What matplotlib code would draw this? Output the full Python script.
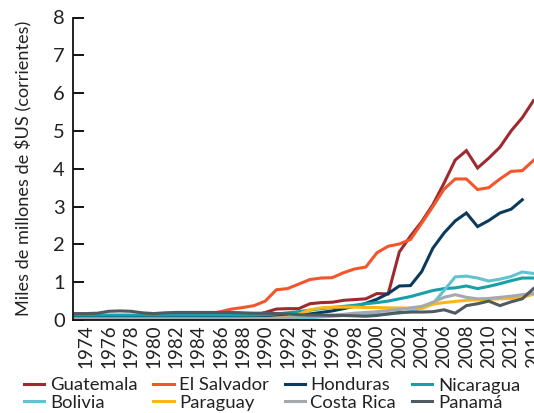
import numpy as np
import matplotlib
matplotlib.use("Agg")
import matplotlib.pyplot as plt

plt.rcParams['font.family'] = ['Lato', 'DejaVu Sans']

years = list(range(1973, 2015))

guatemala = [0.02, 0.02, 0.02, 0.03, 0.03, 0.03, 0.03, 0.03, 0.03, 0.03,
             0.03, 0.04, 0.05, 0.06, 0.08, 0.10, 0.12, 0.20, 0.29, 0.30,
             0.30, 0.43, 0.46, 0.47, 0.52, 0.54, 0.56, 0.70, 0.69, 1.80,
             2.22, 2.60, 3.05, 3.62, 4.23, 4.48, 4.02, 4.28, 4.57, 5.00,
             5.35, 5.80]
el_salvador = [0.01, 0.01, 0.02, 0.02, 0.03, 0.03, 0.04, 0.05, 0.06, 0.07,
               0.09, 0.12, 0.16, 0.22, 0.29, 0.33, 0.38, 0.50, 0.80, 0.83,
               0.95, 1.07, 1.11, 1.12, 1.25, 1.35, 1.40, 1.78, 1.95, 2.01,
               2.13, 2.56, 3.00, 3.46, 3.73, 3.73, 3.45, 3.50, 3.73, 3.93,
               3.95, 4.22]
honduras = [0.10, 0.10, 0.10, 0.10, 0.10, 0.10, 0.10, 0.10, 0.10, 0.10,
            0.10, 0.10, 0.10, 0.10, 0.10, 0.10, 0.10, 0.10, 0.10, 0.11,
            0.13, 0.16, 0.20, 0.24, 0.30, 0.36, 0.44, 0.55, 0.70, 0.90,
            0.91, 1.28, 1.90, 2.30, 2.62, 2.83, 2.47, 2.63, 2.83, 2.93,
            3.18, np.nan]
nicaragua = [0.13, 0.13, 0.13, 0.13, 0.13, 0.13, 0.13, 0.13, 0.13, 0.13,
             0.13, 0.13, 0.13, 0.13, 0.13, 0.13, 0.13, 0.14, 0.16, 0.19,
             0.22, 0.26, 0.30, 0.33, 0.36, 0.39, 0.43, 0.46, 0.50, 0.56,
             0.62, 0.70, 0.78, 0.83, 0.85, 0.90, 0.83, 0.89, 0.96, 1.04,
             1.11, 1.11]
bolivia = [0.02, 0.02, 0.02, 0.02, 0.02, 0.02, 0.02, 0.02, 0.02, 0.02,
           0.02, 0.02, 0.02, 0.02, 0.02, 0.02, 0.02, 0.02, 0.03, 0.04,
           0.05, 0.06, 0.08, 0.10, 0.12, 0.14, 0.15, 0.15, 0.16, 0.18,
           0.22, 0.32, 0.43, 0.78, 1.14, 1.16, 1.11, 1.03, 1.08, 1.15,
           1.27, 1.23]
paraguay = [0.02, 0.02, 0.02, 0.02, 0.02, 0.02, 0.02, 0.02, 0.02, 0.02,
            0.02, 0.02, 0.02, 0.02, 0.02, 0.02, 0.02, 0.03, 0.05, 0.08,
            0.15, 0.27, 0.32, 0.34, 0.34, 0.34, 0.33, 0.33, 0.32, 0.32,
            0.31, 0.30, 0.42, 0.46, 0.49, 0.52, 0.53, 0.55, 0.56, 0.57,
            0.60, 0.68]
costa_rica = [0.03, 0.03, 0.03, 0.03, 0.03, 0.03, 0.03, 0.03, 0.03, 0.03,
              0.03, 0.03, 0.03, 0.03, 0.03, 0.03, 0.03, 0.04, 0.05, 0.06,
              0.08, 0.10, 0.12, 0.13, 0.15, 0.18, 0.20, 0.22, 0.25, 0.28,
              0.32, 0.36, 0.47, 0.60, 0.67, 0.60, 0.56, 0.57, 0.60, 0.63,
              0.67, 0.71]
panama = [0.17, 0.17, 0.18, 0.23, 0.24, 0.23, 0.19, 0.17, 0.19, 0.20,
          0.20, 0.20, 0.20, 0.20, 0.20, 0.19, 0.18, 0.18, 0.17, 0.16,
          0.14, 0.13, 0.13, 0.12, 0.12, 0.11, 0.10, 0.12, 0.16, 0.20,
          0.21, 0.21, 0.22, 0.27, 0.18, 0.38, 0.43, 0.50, 0.38, 0.48,
          0.56, 0.83]

series = [
    ("Guatemala", guatemala, "#9e2a2f"),
    ("El Salvador", el_salvador, "#f4562b"),
    ("Honduras", honduras, "#0b3b5c"),
    ("Nicaragua", nicaragua, "#17a0a7"),
    ("Bolivia", bolivia, "#63c2cf"),
    ("Paraguay", paraguay, "#fdb714"),
    ("Costa Rica", costa_rica, "#a2aab0"),
    ("Panamá", panama, "#505a60"),
]

tick_years = list(range(1974, 2015, 2))
ylabel = "Miles de millones de $US (corrientes)"

fig = plt.figure(figsize=(5.34, 4.13), dpi=100)
ax = fig.add_axes([73 / 534, 1 - 320 / 413, (534 - 73) / 534, (320 - 17.5) / 413])

handles = {}
for name, vals, col in series:
    ln, = ax.plot(years, vals, color=col, lw=2.2, label=name, solid_joinstyle='miter')
    handles[name] = ln

ax.set_xlim(1972.8, 2014.05)
ax.set_ylim(0, 8)
ax.set_yticks(range(0, 9))
ax.set_xticks(tick_years)
ax.set_xticklabels([str(y) for y in tick_years], rotation=90, fontsize=13.5, color='#222222')
ax.tick_params(axis='x', length=0, pad=3)
ax.tick_params(axis='y', direction='in', length=8, width=1.3, pad=6, labelsize=14.5, labelcolor='#222222')
for s in ['top', 'right']:
    ax.spines[s].set_visible(False)
for s in ['left', 'bottom']:
    ax.spines[s].set_linewidth(1.3)
    ax.spines[s].set_color('#111111')
ax.set_ylabel(ylabel, fontsize=13.1, color='#222222', labelpad=15)

# row-major order for a 4-column, 2-row legend
order = ["Guatemala", "Bolivia", "El Salvador", "Paraguay",
         "Honduras", "Costa Rica", "Nicaragua", "Panamá"]
leg = fig.legend([handles[n] for n in order], order,
                 loc='upper left', bbox_to_anchor=(24 / 534, 1 - 377.5 / 413), ncol=4,
                 frameon=False, fontsize=13.3, handlelength=1.1, handletextpad=0.3,
                 columnspacing=0.85, labelspacing=0.06, borderaxespad=0, borderpad=0)
for t in leg.get_texts():
    t.set_color('#222222')

fig.savefig("out.png", dpi=100)
